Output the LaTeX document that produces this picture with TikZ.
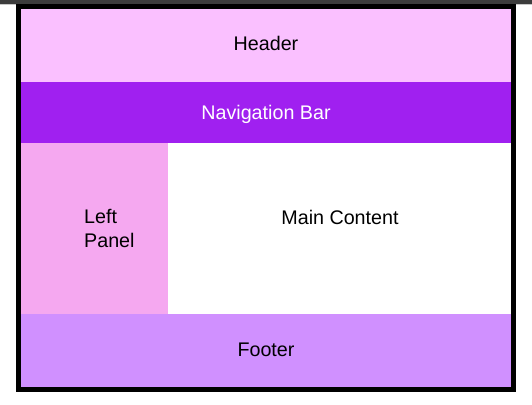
\documentclass[tikz,border=0pt]{standalone}
\usepackage{fontspec}
\setmainfont{Liberation Sans}
\definecolor{hdr}{RGB}{250,192,255}
\definecolor{nav}{RGB}{160,32,240}
\definecolor{lpanel}{RGB}{245,168,240}
\definecolor{ftr}{RGB}{208,144,255}
\definecolor{topbar}{RGB}{60,60,60}
\definecolor{topline}{RGB}{200,200,200}
\begin{document}
\begin{tikzpicture}[x=1pt,y=-1pt,
  region/.style={inner sep=0pt, outer sep=0pt, draw=none, anchor=north west},
  lbl/.style={inner sep=0pt, font=\fontsize{19.7}{24}\selectfont, anchor=base}]
\useasboundingbox (0,0) rectangle (532,404);
\fill[white] (0,0) rectangle (532,404);
\fill[topbar] (0,0) rectangle (532,4);
\fill[topline] (0,4) rectangle (532,5);
\node[region, fill=hdr, minimum width=490pt, minimum height=73pt] (header) at (21,9) {};
\node[region, fill=nav, minimum width=490pt, minimum height=61pt] (navbar) at (21,82) {};
\node[region, fill=lpanel, minimum width=147pt, minimum height=170.5pt] (left) at (21,143) {};
\node[region, fill=white, minimum width=343pt, minimum height=170.5pt] (main) at (168,143) {};
\node[region, fill=ftr, minimum width=490pt, minimum height=73.5pt] (footer) at (21,313.5) {};
\draw[black, line width=5pt] (18.5,6.5) rectangle (513.5,389.5);
\node[lbl] (theader) at (266,51) {Header};
\node[lbl, text=white] (tnav) at (266,119) {Navigation Bar};
\node[lbl, anchor=base west, align=left] (tleft) at (84,247) {Left\\Panel};
\node[lbl] (tmain) at (340,224) {Main Content};
\node[lbl] (tfooter) at (266,356) {Footer};
\end{tikzpicture}
\end{document}
